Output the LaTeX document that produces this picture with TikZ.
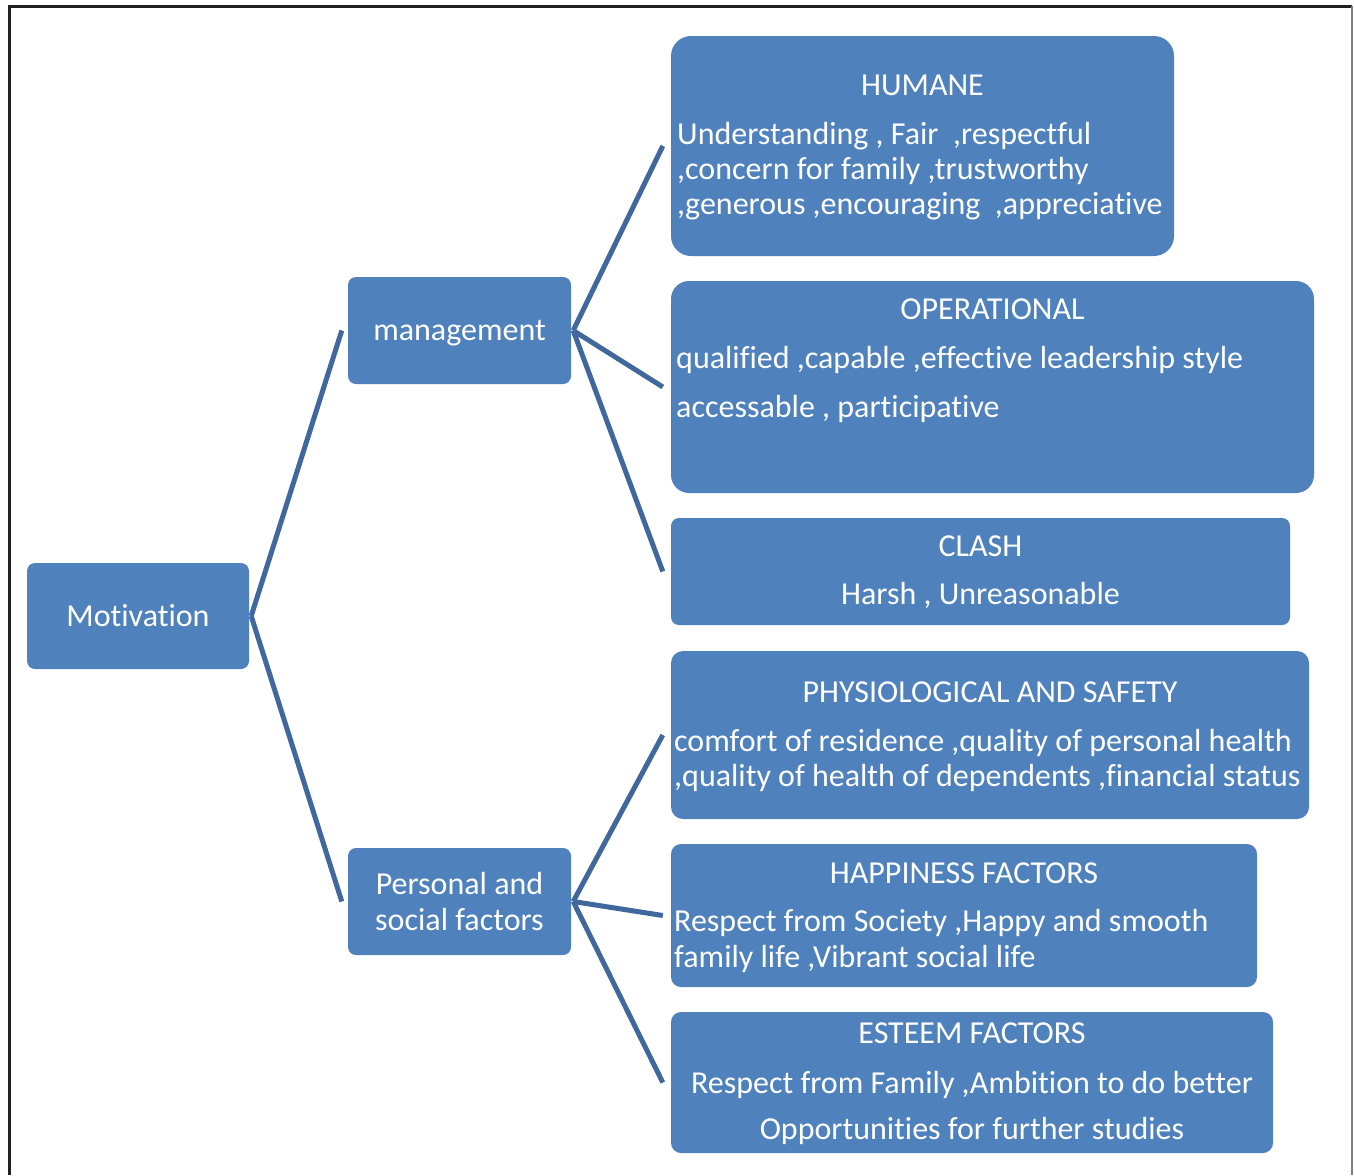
\documentclass[tikz,border=0pt]{standalone}
\usepackage{fontspec}
\setmainfont[Ligatures=NoCommon]{Carlito}
\usetikzlibrary{positioning}
\definecolor{boxblue}{HTML}{4F81BD}
\definecolor{linkblue}{HTML}{41689C}
\definecolor{frameline}{HTML}{231F20}

\begin{document}
\begin{tikzpicture}[x=1pt,y=-1pt,
box/.style={fill=boxblue,inner sep=0pt,rounded corners=8pt,text=white,align=center,font=\fontsize{32}{35.5}\selectfont},
txt/.style={text=white,inner sep=0pt,font=\fontsize{32}{35}\selectfont},
link/.style={draw=linkblue,line width=5pt}
]
\useasboundingbox (0,0) rectangle (1354,1175);
% frame
\draw[frameline,line width=3pt] (9,1175) -- (9,6) -- (1352,6);
\draw[gray,line width=1.5pt] (1352,6) -- (1352,1175);

\node[box,minimum width=222pt,minimum height=106pt] (mot) at (138,616) {Motivation};
\node[box,minimum width=223pt,minimum height=107pt,text depth=0pt] (mgmt) at (459.5,330.5) {management};
\node[box,minimum width=223pt,minimum height=107pt] (pers) at (459.5,901.5) {Personal and\\social factors};

\node[box,minimum width=503pt,minimum height=220pt,rounded corners=20pt] (hum) at (922.5,146) {};
\node[box,minimum width=643pt,minimum height=212pt,rounded corners=18pt] (oper) at (992.5,387) {};
\node[box,minimum width=619pt,minimum height=107pt] (clash) at (980.5,571.5) {};
\node[box,minimum width=638pt,minimum height=168pt,rounded corners=12pt] (phys) at (990,735) {};
\node[box,minimum width=586pt,minimum height=143pt,rounded corners=10pt] (happy) at (964,915.5) {};
\node[box,minimum width=602pt,minimum height=141pt,rounded corners=10pt] (esteem) at (972,1082.5) {};

\node[txt,anchor=base] (humT) at (922.5,95) {HUMANE};
\node[txt,anchor=base west] (hum1) at (677,144) {Understanding , Fair\ \ ,respectful};
\node[txt,anchor=base west] (hum2) at (677,179) {,concern for family ,trustworthy};
\node[txt,anchor=base west] (hum3) at (677,214) {,generous ,encouraging\ \ ,appreciative};

\node[txt,anchor=base] (operT) at (992.5,319) {OPERATIONAL};
\node[txt,anchor=base west] (oper1) at (676,368) {qualified ,capable ,effective leadership style};
\node[txt,anchor=base west] (oper2) at (676,417) {accessable , participative};

\node[txt,anchor=base] (clashT) at (980.5,556) {CLASH};
\node[txt,anchor=base] (clash1) at (980.5,604) {Harsh , Unreasonable};

\node[txt,anchor=base] (physT) at (990,702) {PHYSIOLOGICAL AND SAFETY};
\node[txt,anchor=base west] (phys1) at (674,751) {comfort of residence ,quality of personal health};
\node[txt,anchor=base west] (phys2) at (674,786) {,quality of health of dependents ,financial status};

\node[txt,anchor=base] (happyT) at (964,883) {HAPPINESS FACTORS};
\node[txt,anchor=base west] (happy1) at (674,931) {Respect from Society ,Happy and smooth};
\node[txt,anchor=base west] (happy2) at (674,967) {family life ,Vibrant social life};

\node[txt,anchor=base] (esteemT) at (972,1043) {ESTEEM FACTORS};
\node[txt,anchor=base] (esteem1) at (972,1093) {Respect from Family ,Ambition to do better};
\node[txt,anchor=base] (esteem2) at (972,1139) {Opportunities for further studies};

\draw[link] ([xshift=2pt]mot.east) -- ([xshift=-6pt]mgmt.west);
\draw[link] ([xshift=2pt]mot.east) -- ([xshift=-6pt]pers.west);
\foreach \n in {hum,oper,clash}
  \draw[link] ([xshift=2pt]mgmt.east) -- ([xshift=-8pt]\n.west);
\foreach \n in {phys,happy,esteem}
  \draw[link] ([xshift=2pt]pers.east) -- ([xshift=-8pt]\n.west);
\end{tikzpicture}
\end{document}
